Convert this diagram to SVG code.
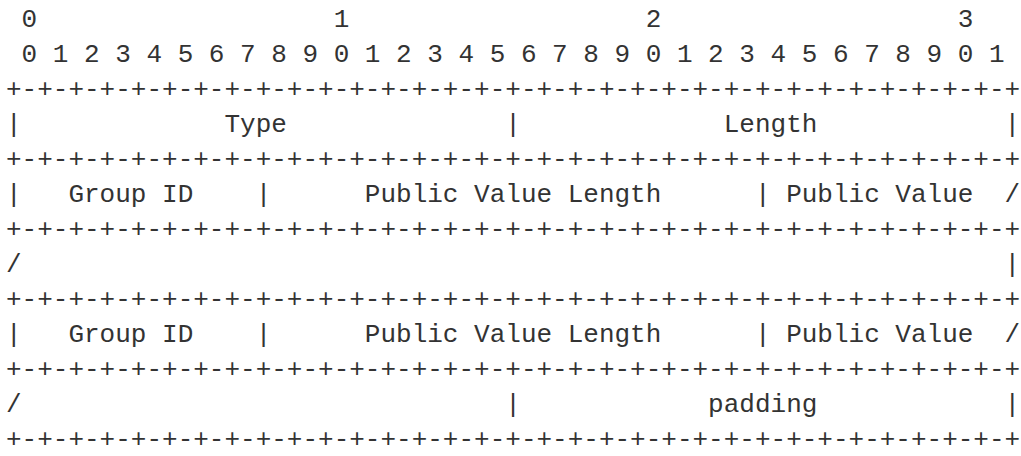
<svg xmlns="http://www.w3.org/2000/svg" width="1021" height="456" viewBox="0 0 1021 456">
<style>
text{font-family:"Liberation Mono","DejaVu Sans Mono",monospace;font-size:26px;fill:#333;white-space:pre}
</style>
<rect width="1021" height="456" fill="#fff"/>
<g id="diagram" xml:space="preserve">
<text x="6" y="27"> 0                   1                   2                   3</text>
<text x="6" y="62"> 0 1 2 3 4 5 6 7 8 9 0 1 2 3 4 5 6 7 8 9 0 1 2 3 4 5 6 7 8 9 0 1</text>
<text x="6" y="97">+-+-+-+-+-+-+-+-+-+-+-+-+-+-+-+-+-+-+-+-+-+-+-+-+-+-+-+-+-+-+-+-+</text>
<text x="6" y="132">|             Type              |             Length            |</text>
<text x="6" y="167">+-+-+-+-+-+-+-+-+-+-+-+-+-+-+-+-+-+-+-+-+-+-+-+-+-+-+-+-+-+-+-+-+</text>
<text x="6" y="202">|   Group ID    |      Public Value Length      | Public Value  /</text>
<text x="6" y="237">+-+-+-+-+-+-+-+-+-+-+-+-+-+-+-+-+-+-+-+-+-+-+-+-+-+-+-+-+-+-+-+-+</text>
<text x="6" y="272">/                                                               |</text>
<text x="6" y="307">+-+-+-+-+-+-+-+-+-+-+-+-+-+-+-+-+-+-+-+-+-+-+-+-+-+-+-+-+-+-+-+-+</text>
<text x="6" y="342">|   Group ID    |      Public Value Length      | Public Value  /</text>
<text x="6" y="377">+-+-+-+-+-+-+-+-+-+-+-+-+-+-+-+-+-+-+-+-+-+-+-+-+-+-+-+-+-+-+-+-+</text>
<text x="6" y="412">/                               |            padding            |</text>
<text x="6" y="447">+-+-+-+-+-+-+-+-+-+-+-+-+-+-+-+-+-+-+-+-+-+-+-+-+-+-+-+-+-+-+-+-+</text>
</g>
</svg>
